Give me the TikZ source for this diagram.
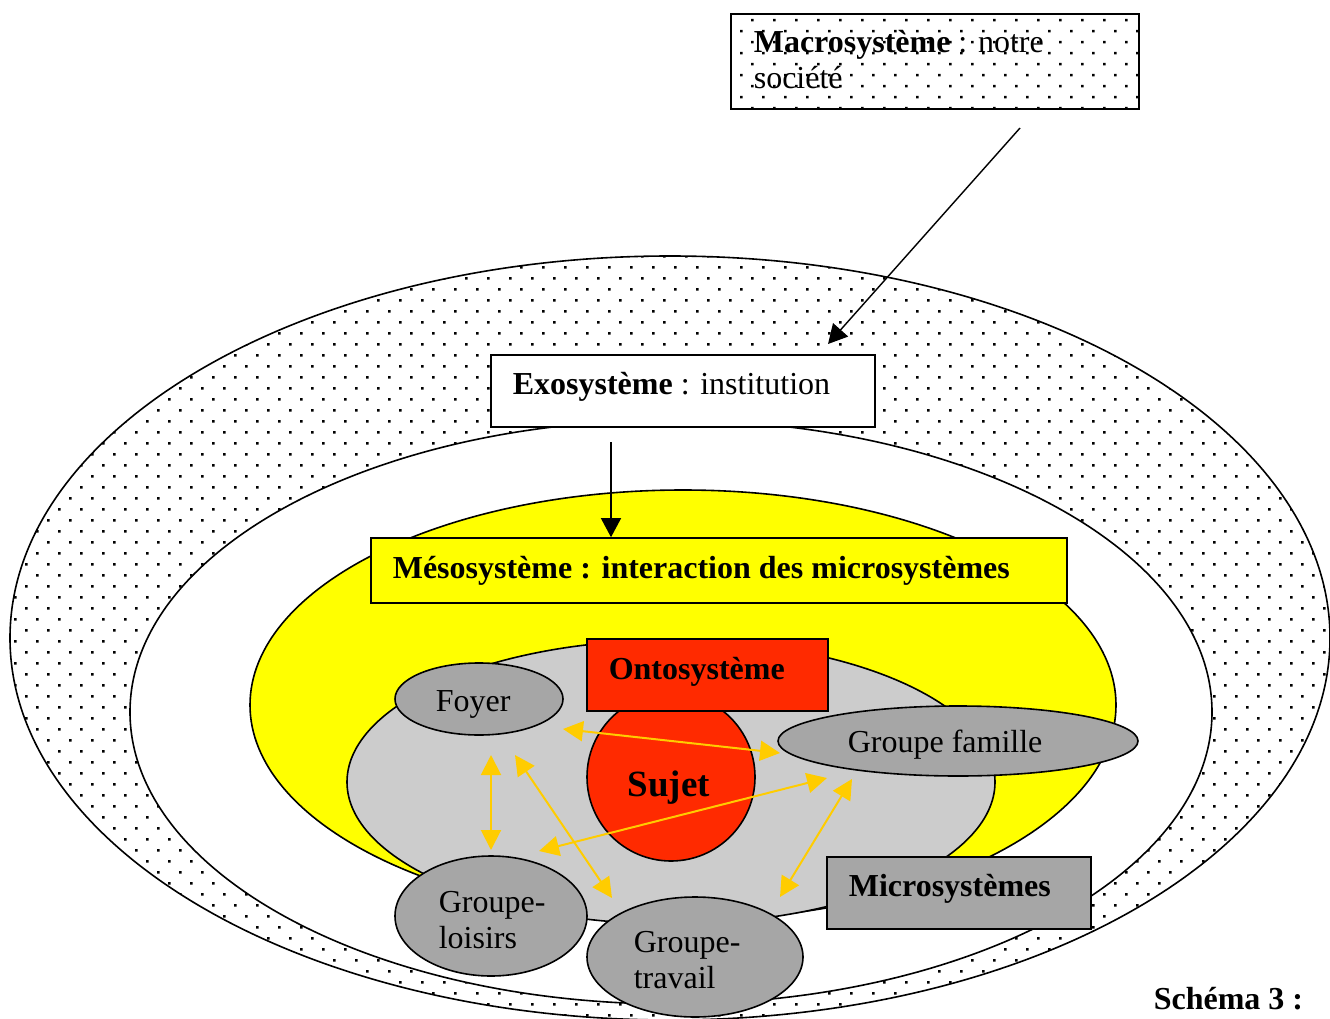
\documentclass[tikz,border=0pt]{standalone}
\usepackage{fontspec}
\setmainfont{Liberation Serif}
\usetikzlibrary{arrows.meta}
\definecolor{yel}{HTML}{FFFF00}
\definecolor{lgray}{HTML}{CCCCCC}
\definecolor{dgray}{HTML}{A6A6A6}
\definecolor{ored}{HTML}{FF2A00}
\definecolor{ayel}{HTML}{FFCC00}
\begin{document}
\begin{tikzpicture}[x=1pt,y=-1pt,line width=1.6pt,
  box/.style={draw=black,rectangle,inner sep=0pt},
  txt/.style={anchor=base west,inner sep=0pt,font=\fontsize{32}{36}\selectfont},
  yarrow/.style={draw=ayel,line width=2pt,{Triangle[length=20pt,width=20pt]}-{Triangle[length=20pt,width=20pt]}},
  karrow/.style={draw=black,line width=1.4pt,-{Triangle[length=19pt,width=20pt]}},
  dotfill/.style={fill=black}
]
\clip (0,0) rectangle (1330,1019);
\fill[white] (0,0) rectangle (1330,1019);

% ---- outer dotted ellipse (Macrosystème field)
\begin{scope}
  \clip (670,638) ellipse [x radius=660, y radius=382];
  \fill \foreach \j in {0,...,70} { \foreach \i in {0,...,61} {
      ({22*\i+11*mod(\j,2)+3},{255+11*\j}) rectangle ++(2.5,2.5) } };
\end{scope}
\draw (670,638) ellipse [x radius=660, y radius=382];

% ---- inner white ellipse (Exosystème field)
\filldraw[fill=white] (671,712) ellipse [x radius=541, y radius=292];

% ---- Exosystème box
\node[box,fill=white,minimum width=384pt,minimum height=72pt] (exo) at (683,391) {};
\node[txt] (exot) at (512,394) {\textbf{Exosystème} : institution};

% ---- yellow ellipse (Mésosystème)
\filldraw[fill=yel] (683,705) ellipse [x radius=433, y radius=215];
\node[box,fill=yel,minimum width=696pt,minimum height=65pt] (meso) at (719,570.5) {};
\node[txt,font=\fontsize{32}{36}\selectfont\bfseries] (mesot) at (392,578) {Mésosystème : interaction des microsystèmes};

% ---- grey ellipse (microsystems field)
\filldraw[fill=lgray] (671,782) ellipse [x radius=324, y radius=142];

% ---- Foyer
\filldraw[fill=dgray] (479,699) ellipse [x radius=84, y radius=36];
\node[txt] (foyer) at (435,711) {Foyer};

% ---- Groupe famille
\filldraw[fill=dgray] (958,741) ellipse [x radius=180, y radius=35];
\node[txt] (famille) at (847,752) {Groupe famille};

% ---- Sujet
\filldraw[fill=ored] (671,777) circle [radius=84];
\node[txt,font=\fontsize{37}{40}\selectfont\bfseries] (sujet) at (627,796) {Sujet};

% ---- Ontosystème box
\node[box,fill=ored,minimum width=241pt,minimum height=72pt] (onto) at (707.5,675) {};
\node[txt,font=\fontsize{32}{36}\selectfont\bfseries] (ontot) at (608,679) {Ontosystème};

% ---- yellow arrows
\coordinate (y1a) at (563,729); \coordinate (y1b) at (780,753);
\coordinate (y2a) at (491,755); \coordinate (y2b) at (491,850);
\coordinate (y3a) at (515,755); \coordinate (y3b) at (612,898);
\coordinate (y4a) at (539,851); \coordinate (y4b) at (827,778);
\coordinate (y5a) at (852,779); \coordinate (y5b) at (780,897);
\draw[yarrow] (y1a) -- (y1b);
\draw[yarrow] (y2a) -- (y2b);
\draw[yarrow] (y3a) -- (y3b);
\draw[yarrow] (y4a) -- (y4b);
\draw[yarrow] (y5a) -- (y5b);

% ---- Groupe-loisirs
\filldraw[fill=dgray] (491,916) ellipse [x radius=96, y radius=60];
\node[txt] (loisirs1) at (438,912) {Groupe-};
\node[txt] (loisirs2) at (438,948) {loisirs};

% ---- Groupe-travail
\filldraw[fill=dgray] (695,957) ellipse [x radius=108, y radius=60];
\node[txt] (travail1) at (633,952) {Groupe-};
\node[txt] (travail2) at (633,988) {travail};

% ---- Microsystèmes box
\node[box,fill=dgray,minimum width=264pt,minimum height=72pt] (micro) at (959,893) {};
\node[txt,font=\fontsize{32}{36}\selectfont\bfseries] (microt) at (848,896) {Microsystèmes};

% ---- Macrosystème box (dotted)
\node[box,minimum width=408pt,minimum height=95pt] (macro) at (935,61.5) {};
\begin{scope}
  \clip (731,14) rectangle (1139,109);
  \fill \foreach \j in {0,...,9} { \foreach \i in {0,...,19} {
      ({729+22*\i+11*mod(\j,2)},{19+11*\j}) rectangle ++(2.5,2.5) } };
\end{scope}
\draw (731,14) rectangle (1139,109);
\node[txt] (macrot1) at (753,53) {\textbf{Macrosystème} : notre};
\node[txt] (macrot2) at (753,89) {société};

% ---- black arrows
\coordinate (k1a) at (1020,128);
\coordinate (k1b) at (828,344);
\coordinate (k2a) at (611,442);
\draw[karrow] (k1a) -- (k1b);
\draw[karrow] (k2a) -- (k2a |- meso.north);

% ---- caption
\node[txt,font=\fontsize{32}{36}\selectfont\bfseries] (schema) at (1153,1009) {Schéma 3 :};
\end{tikzpicture}
\end{document}
